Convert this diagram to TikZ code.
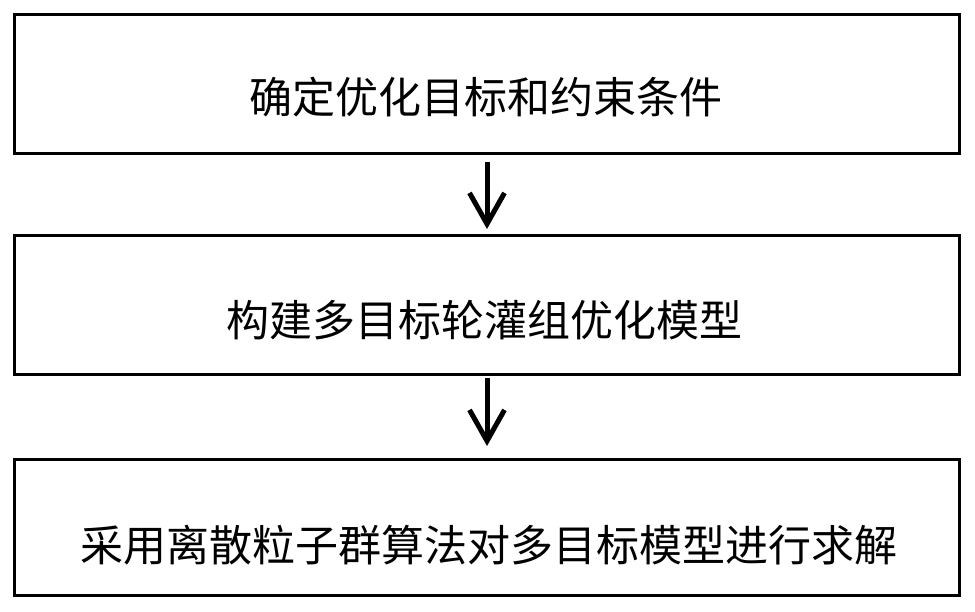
\documentclass[tikz,border=0pt]{standalone}
\usepackage{fontspec}
\newfontfamily\cjk{Noto Sans CJK SC}
\usetikzlibrary{arrows.meta}
\begin{document}
\begin{tikzpicture}[x=1pt,y=-1pt,
  box/.style={draw=black,line width=3pt,minimum width=945pt,inner sep=0pt,outer sep=0pt},
  txt/.style={inner sep=0pt,font=\cjk\fontsize{43}{43}\selectfont},
  flow/.style={line width=5pt,-{Straight Barb[length=31pt,width=35pt]}}]
\useasboundingbox (0,0) rectangle (975,611);
\node[box,minimum height=139pt] (b1) at (487,84) {};
\node[box,minimum height=139pt] (b2) at (487,305) {};
\node[box,minimum height=136pt] (b3) at (487,527.5) {};
\node[txt] (t1) at (486,97) {确定优化目标和约束条件};
\node[txt] (t2) at (484,320) {构建多目标轮灌组优化模型};
\node[txt] (t3) at (489,545) {采用离散粒子群算法对多目标模型进行求解};
\draw[flow,shorten <=8.5pt,shorten >=6.5pt] (b1.south) -- (b2.north);
\draw[flow,shorten <=3.5pt,shorten >=13.5pt] (b2.south) -- (b3.north);
\end{tikzpicture}
\end{document}
